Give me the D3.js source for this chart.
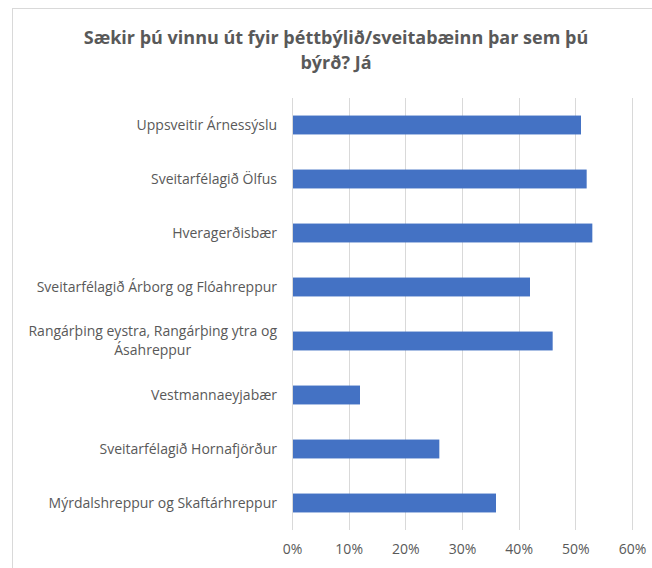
<!DOCTYPE html>
<html>
<head>
<meta charset="utf-8">
<script src="https://cdn.jsdelivr.net/npm/d3@7"></script>
<style>
    body { margin: 0; background: #fff; }
    svg text { font-family: "Open Sans", "Noto Sans", sans-serif; fill: #595959; }
</style>
</head>
<body>
<div id="chart"></div>
<script>
// data
let categories = [
    "Uppsveitir Árnessýslu",
    "Sveitarfélagið Ölfus",
    "Hveragerðisbær",
    "Sveitarfélagið Árborg og Flóahreppur",
    "Rangárþing eystra, Rangárþing ytra og Ásahreppur",
    "Vestmannaeyjabær",
    "Sveitarfélagið Hornafjörður",
    "Mýrdalshreppur og Skaftárhreppur"
];
let values = [0.51, 0.52, 0.53, 0.42, 0.46, 0.12, 0.26, 0.36];
let tickValues = [0, 0.1, 0.2, 0.3, 0.4, 0.5, 0.6];
let titleLines = ["Sækir þú vinnu út fyir þéttbýlið/sveitabæinn þar sem þú", "býrð? Já"];

let width = 652, height = 568;

let svg = d3.select("#chart").append("svg")
    .attr("width", width)
    .attr("height", height);

// chart area border (extends past the right/bottom edges)
svg.append("rect")
    .attr("x", 12.5)
    .attr("y", 8.5)
    .attr("width", 660)
    .attr("height", 600)
    .attr("fill", "#fff")
    .attr("stroke", "#d9d9d9")
    .attr("stroke-width", 1);

// title
let title = svg.append("text")
    .attr("text-anchor", "middle")
    .style("font-size", "18px")
    .style("font-weight", "bold");
title.selectAll("tspan")
    .data(titleLines)
    .enter()
    .append("tspan")
    .attr("x", 336)
    .attr("y", (d, i) => 44 + i * 25)
    .text(d => d);

// scales
let x = d3.scaleLinear()
    .domain([0, 0.6])
    .range([292, 632]);

let y = d3.scaleBand()
    .domain(categories)
    .range([98, 530])
    .paddingInner(0.65)
    .paddingOuter(0.325);

// gridlines
svg.append("g")
    .attr("class", "grid")
    .selectAll("line")
    .data(tickValues)
    .enter()
    .append("line")
    .attr("x1", d => Math.round(x(d)) + 0.5)
    .attr("x2", d => Math.round(x(d)) + 0.5)
    .attr("y1", 98)
    .attr("y2", 530)
    .attr("stroke", "#d9d9d9")
    .attr("stroke-width", 1);

// bars
svg.append("g")
    .selectAll("rect")
    .data(values)
    .enter()
    .append("rect")
    .attr("x", x(0) + 1)
    .attr("y", (d, i) => y(categories[i]))
    .attr("width", d => x(d) - x(0) - 1)
    .attr("height", y.bandwidth())
    .attr("fill", "#4472c4");

// x axis (labels only)
let xAxis = d3.axisBottom(x)
    .tickValues(tickValues)
    .tickFormat(d3.format(".0%"))
    .tickSize(0)
    .tickPadding(0);

let xg = svg.append("g")
    .attr("transform", "translate(0, 544)")
    .call(xAxis);
xg.select(".domain").remove();
xg.selectAll("text")
    .style("font-size", "14px")
    .style("font-family", null)
    .attr("fill", null);

// y axis labels, wrapped and centered as a block, right-aligned to the axis
let labelRight = 277;
let labels = svg.append("g")
    .selectAll("text")
    .data(categories)
    .enter()
    .append("text")
    .style("font-size", "14px")
    .attr("text-anchor", "middle")
    .each(function(d) {
        let el = d3.select(this);
        let words = d.split(" ");
        let lines = [];
        let line = [];
        let probe = el.append("tspan");
        words.forEach(w => {
            line.push(w);
            probe.text(line.join(" "));
            if (probe.node().getComputedTextLength() > 262 && line.length > 1) {
                line.pop();
                lines.push(line.join(" "));
                line = [w];
            }
        });
        lines.push(line.join(" "));
        probe.remove();

        let cy = y(d) + y.bandwidth() / 2;
        let lh = 19;
        let tspans = el.selectAll("tspan")
            .data(lines)
            .enter()
            .append("tspan")
            .attr("dy", "0.35em")
            .attr("y", (l, i) => cy + (i - (lines.length - 1) / 2) * lh)
            .text(l => l);
        let maxW = d3.max(tspans.nodes(), n => n.getComputedTextLength());
        tspans.attr("x", labelRight - maxW / 2);
    });
</script>
</body>
</html>
